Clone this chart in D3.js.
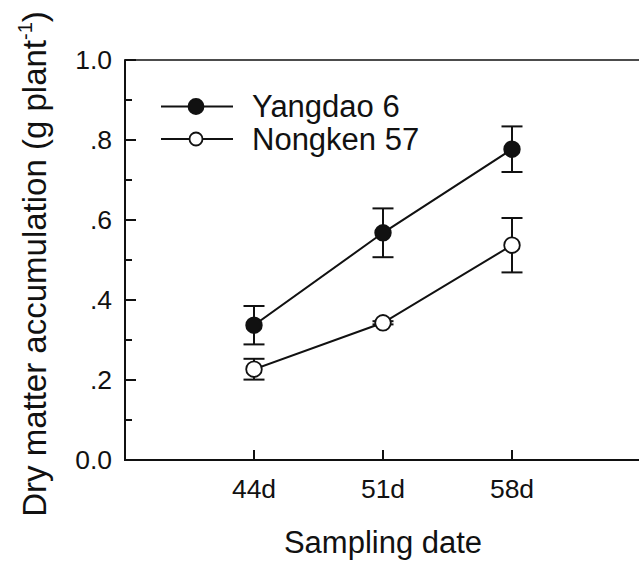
<!DOCTYPE html>
<html>
<head>
<meta charset="utf-8">
<script src="https://cdn.jsdelivr.net/npm/d3@7"></script>
<style>
  body { margin: 0; background: #fff; }
  text { font-family: "Liberation Sans", Arial, sans-serif; fill: #111; }
</style>
</head>
<body>
<script>
// sampling dates and values (g plant-1)
const dates = ["44d", "51d", "58d"];
const yangdao = [0.337, 0.568, 0.777];
const yangdaoErr = [0.048, 0.061, 0.057];
const nongken = [0.227, 0.343, 0.537];
const nongkenErr = [0.026, 0.004, 0.068];
const yMajor = [0, 0.2, 0.4, 0.6, 0.8, 1.0];
const yMinor = [0.1, 0.3, 0.5, 0.7, 0.9];
const yLabels = ["0.0", ".2", ".4", ".6", ".8", "1.0"];
const seriesNames = ["Yangdao 6", "Nongken 57"];

const width = 639, height = 561;
const margin = {top: 60, right: -2, bottom: 101, left: 125};

const svg = d3.select("body").append("svg")
  .attr("width", width)
  .attr("height", height);

svg.append("rect").attr("width", width).attr("height", height).attr("fill", "#fff");

const x = d3.scaleLinear()
  .domain([0, 4])
  .range([margin.left, width - margin.right]);

const y = d3.scaleLinear()
  .domain([0, 1])
  .range([height - margin.bottom, margin.top]);

const ink = "#111";

// frame (left, bottom, top)
const g = svg.append("g");
g.append("line").attr("x1", x(0)).attr("x2", x(4)).attr("y1", y(0)).attr("y2", y(0))
  .attr("stroke", ink).attr("stroke-width", 2);
g.append("line").attr("x1", x(0)).attr("x2", x(4)).attr("y1", y(1)).attr("y2", y(1))
  .attr("stroke", ink).attr("stroke-width", 1.5);
g.append("line").attr("x1", x(0)).attr("x2", x(0)).attr("y1", y(0) + 1).attr("y2", y(1) - 0.75)
  .attr("stroke", ink).attr("stroke-width", 2);

// y ticks (inside)
g.selectAll(".ymaj").data(yMajor).enter().append("line")
  .attr("x1", x(0)).attr("x2", x(0) + 11)
  .attr("y1", d => y(d)).attr("y2", d => y(d))
  .attr("stroke", ink).attr("stroke-width", 2);
g.selectAll(".ymin").data(yMinor).enter().append("line")
  .attr("x1", x(0)).attr("x2", x(0) + 7)
  .attr("y1", d => y(d)).attr("y2", d => y(d))
  .attr("stroke", ink).attr("stroke-width", 2);
g.selectAll(".ylab").data(yMajor).enter().append("text")
  .attr("x", x(0) - 13)
  .attr("y", d => y(d))
  .attr("dy", "0.35em")
  .attr("text-anchor", "end")
  .style("font-size", "26.5px")
  .text((d, i) => yLabels[i]);

// x ticks (inside)
g.selectAll(".xt").data(dates).enter().append("line")
  .attr("x1", (d, i) => x(i + 1)).attr("x2", (d, i) => x(i + 1))
  .attr("y1", y(0)).attr("y2", y(0) - 10)
  .attr("stroke", ink).attr("stroke-width", 2);
g.selectAll(".xlab").data(dates).enter().append("text")
  .attr("x", (d, i) => x(i + 1))
  .attr("y", y(0) + 38)
  .attr("text-anchor", "middle")
  .style("font-size", "26.5px")
  .text(d => d);

// axis titles
svg.append("text")
  .attr("x", x(2))
  .attr("y", 553)
  .attr("text-anchor", "middle")
  .style("font-size", "31px")
  .text("Sampling date");

const yt = svg.append("text")
  .attr("transform", "translate(46,264) rotate(-90)")
  .attr("text-anchor", "middle")
  .style("font-size", "33px");
yt.append("tspan").text("Dry matter accumulation (g plant");
yt.append("tspan").attr("dy", -14).style("font-size", "20px").text("-1");
yt.append("tspan").attr("dy", 14).text(")");

// series
const series = [
  {vals: yangdao, err: yangdaoErr, fill: ink},
  {vals: nongken, err: nongkenErr, fill: "#fff"}
];
const line = d3.line().x((d, i) => x(i + 1)).y(d => y(d));

series.forEach(s => {
  const sg = svg.append("g");
  sg.append("path").attr("d", line(s.vals))
    .attr("fill", "none").attr("stroke", ink).attr("stroke-width", 2);
  s.vals.forEach((v, i) => {
    const cx = x(i + 1);
    const hi = y(v + s.err[i]), lo = y(v - s.err[i]);
    sg.append("line").attr("x1", cx).attr("x2", cx).attr("y1", hi).attr("y2", lo)
      .attr("stroke", ink).attr("stroke-width", 2);
    [hi, lo].forEach(yy => sg.append("line")
      .attr("x1", cx - 10.5).attr("x2", cx + 10.5).attr("y1", yy).attr("y2", yy)
      .attr("stroke", ink).attr("stroke-width", 2));
  });
  sg.selectAll("circle").data(s.vals).enter().append("circle")
    .attr("cx", (d, i) => x(i + 1))
    .attr("cy", d => y(d))
    .attr("r", 7.8)
    .attr("fill", s.fill)
    .attr("stroke", ink).attr("stroke-width", 1.8);
});

// legend
const legend = svg.append("g");
const legRows = [106.5, 139];
seriesNames.forEach((name, i) => {
  const ly = legRows[i];
  legend.append("line").attr("x1", 161).attr("x2", 233).attr("y1", ly).attr("y2", ly)
    .attr("stroke", ink).attr("stroke-width", 2);
  legend.append("circle").attr("cx", 196).attr("cy", ly).attr("r", i === 0 ? 7.5 : 6.5)
    .attr("fill", series[i].fill).attr("stroke", ink).attr("stroke-width", 1.8);
  legend.append("text").attr("x", 252).attr("y", ly).attr("dy", "0.35em")
    .style("font-size", "31px").text(name);
});
</script>
</body>
</html>
